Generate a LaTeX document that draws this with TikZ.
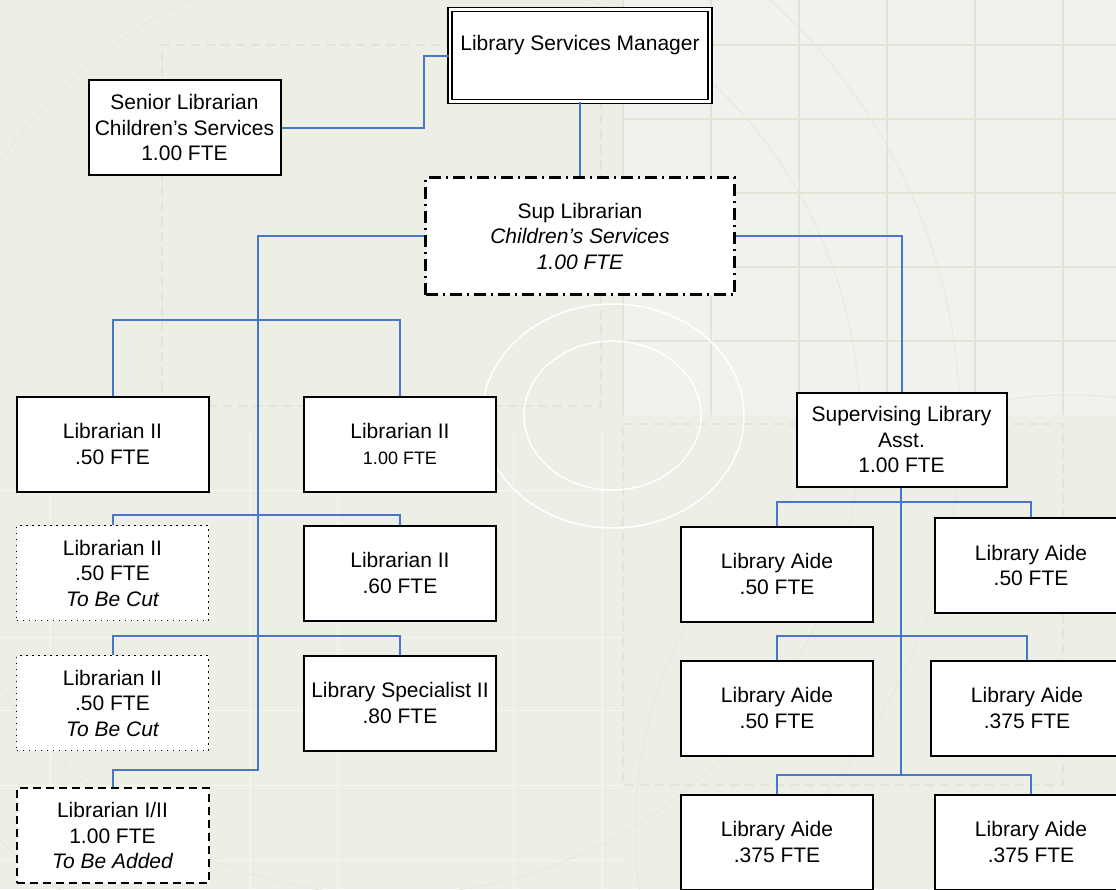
\documentclass[tikz,border=0pt]{standalone}
\usepackage{fontspec}
\setmainfont{Liberation Sans}
\definecolor{paper}{RGB}{237,239,231}
\definecolor{paperlight}{RGB}{241,242,237}
\definecolor{gridgreen}{RGB}{222,230,214}
\definecolor{arcgreen}{RGB}{226,233,220}
\definecolor{linkblue}{RGB}{72,118,200}
\begin{document}
\begin{tikzpicture}[x=1pt,y=-1pt,
  txt/.style={font=\fontsize{21}{25.5}\selectfont},
  box/.style={txt, draw=black, line width=2pt, fill=white, minimum width=192pt,
    minimum height=95pt, inner sep=2pt, align=center},
  cutbox/.style={box, line width=1.3pt, dash pattern=on 1.3pt off 4.7pt},
  addbox/.style={box, dash pattern=on 8pt off 5pt},
  supbox/.style={box, line width=3pt, dash pattern=on 12pt off 5pt on 2pt off 5pt},
  mgrbox/.style={box, line width=1.5pt, double, double distance=2.5pt},
  conn/.style={draw=linkblue, line width=2pt},
  deco/.style={draw=gridgreen, line width=1.2pt},
  decodash/.style={deco, dash pattern=on 9pt off 6pt},
]
\clip (0,0) rectangle (1116,889);
\useasboundingbox (0,0) rectangle (1116,889);

% ---- background paper and faint template pattern ----
\fill[paper] (0,0) rectangle (1116,889);
\fill[paperlight] (623,0) rectangle (1116,415);
\foreach \gx in {623,711,799,887,975,1063} \draw[deco] (\gx,0) -- (\gx,415);
\foreach \gy in {45,119,193,267,341} \draw[deco] (623,\gy) -- (1116,\gy);
\foreach \gx in {50,250,337,513,602} \draw[white, line width=1pt, opacity=.5] (\gx,430) -- (\gx,889);
\foreach \gy in {490,637,710,785,860} \draw[white, line width=1pt, opacity=.5] (0,\gy) -- (623,\gy);
\draw[decodash] (162,406) -- (162,45) -- (601,45) -- (601,406) -- cycle;
\draw[decodash] (623,424) -- (1063,424) -- (1063,785) -- (623,785) -- cycle;
\draw[draw=arcgreen, line width=.8pt] (390,425) circle [radius=470];
\draw[draw=arcgreen, line width=.8pt] (390,425) circle [radius=570];
\draw[draw=arcgreen, line width=.8pt] (1070,830) circle [radius=435];
\draw[white, line width=1.5pt] (613,416) ellipse [x radius=131, y radius=112];
\draw[white, line width=1.5pt] (612.5,415.5) ellipse [x radius=88.5, y radius=74.5];

% ---- management ----
\node[mgrbox, minimum width=260pt, minimum height=92pt] (lsm) at (580,55.5)
  {Library Services Manager\\~};
\node[box] (senior) at (184.5,127.5)
  {Senior Librarian\\Children’s Services\\1.00 FTE};
\node[supbox, minimum width=309pt, minimum height=117pt] (sup) at (580,236)
  {Sup Librarian\\\itshape Children’s Services\\\itshape 1.00 FTE};

% ---- librarian branch ----
\node[box] (lib1) at (112.5,444) {Librarian II\\.50 FTE};
\node[box] (lib2) at (400,444) {Librarian II\\{\fontsize{18}{25.5}\selectfont 1.00 FTE}};
\node[cutbox] (cut1) at (112.5,573) {Librarian II\\.50 FTE\\\itshape To Be Cut};
\node[box] (lib3) at (400,573) {Librarian II\\.60 FTE};
\node[cutbox] (cut2) at (112.5,703) {Librarian II\\.50 FTE\\\itshape To Be Cut};
\node[box] (spec) at (400,703) {Library Specialist II\\.80 FTE};
\node[addbox] (add) at (112.5,835.5) {Librarian I/II\\1.00 FTE\\\itshape To Be Added};

% ---- library assistant branch ----
\node[box, minimum width=210pt, minimum height=94pt] (sla) at (901.5,439.5)
  {Supervising Library\\Asst.\\1.00 FTE};
\node[box] (aide1) at (777,574) {Library Aide\\.50 FTE};
\node[box] (aide2) at (1031,565.5) {Library Aide\\.50 FTE};
\node[box] (aide3) at (777,708) {Library Aide\\.50 FTE};
\node[box] (aide4) at (1027,708) {Library Aide\\.375 FTE};
\node[box] (aide5) at (777,842) {Library Aide\\.375 FTE};
\node[box] (aide6) at (1031,842) {Library Aide\\.375 FTE};

% ---- junction points ----
\coordinate (jm) at (424,0);
\coordinate (tl) at (258,770);
\coordinate (b1) at (258,320);
\coordinate (b2) at (258,515);
\coordinate (b3) at (258,636);
\coordinate (tr) at (901,775);
\coordinate (r1) at (901,502);
\coordinate (r2) at (901,636);

% ---- connectors ----
\draw[conn] (senior.east) -- (senior.east -| jm) -- (lsm.west -| jm) -- (lsm.west);
\draw[conn] (lsm.south) -- (sup.north);
\draw[conn] (sup.west) -| (tl) -| (add.north);
\draw[conn] (lib1.north) |- (b1) -| (lib2.north);
\draw[conn] (cut1.north) |- (b2) -| (lib3.north);
\draw[conn] (cut2.north) |- (b3) -| (spec.north);
\draw[conn] (sup.east) -| (sla.north);
\draw[conn] (sla.south -| tr) -- (tr);
\draw[conn] (aide1.north) |- (r1) -| (aide2.north);
\draw[conn] (aide3.north) |- (r2) -| (aide4.north);
\draw[conn] (aide5.north) |- (tr) -| (aide6.north);
\end{tikzpicture}
\end{document}
